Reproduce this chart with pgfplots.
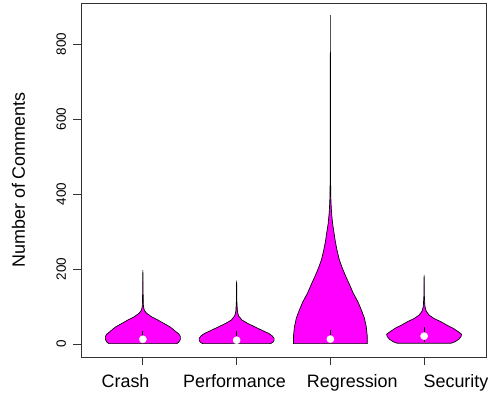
\documentclass[border=0pt]{standalone}
\usepackage{pgfplots}
\pgfplotsset{compat=1.18}
\usepackage{fontspec}
\setmainfont{Liberation Sans}
\definecolor{vio}{HTML}{FF00FF}
\begin{document}
\begin{tikzpicture}
\begin{axis}[
  at={(0,0)}, anchor=south west,
  scale only axis, width=405bp, height=354bp,
  xmin=0.34, xmax=4.66, ymin=-34.7, ymax=909.3,
  xtick={1,2,3,4},
  xticklabels={,,,},
  extra x ticks={0.815,1.977,3.234,4.34},
  extra x tick labels={Crash,Performance,Regression,Security},
  extra x tick style={major tick style={draw=none}},
  ytick={0,200,400,600,800},
  /pgf/number format/assume math mode=true,
  tick align=outside, major tick length=8bp,
  xtick pos=bottom, ytick pos=left,
  axis line style={black!80, line width=0.8bp},
  tick style={black!80, line width=0.8bp},
  xticklabel style={font=\fontsize{18}{18}\selectfont, anchor=base, inner sep=0pt},
  xticklabel shift=22.5bp,
  yticklabel style={font=\fontsize{13.5}{13.5}\selectfont, rotate=90, anchor=base, inner sep=0pt},
  yticklabel shift=7bp,
  ylabel={Number of Comments},
  ylabel style={font=\fontsize{18}{18}\selectfont, at={(axis description cs:-0.1383,0.5)}, anchor=base, inner sep=0pt},
  clip=false,
]
% Crash
\addplot[fill=vio, draw=black, line width=0.7bp] coordinates {
(0.638,1) (0.617,5) (0.600,12) (0.600,20) (0.617,27) (0.649,33) (0.681,40) (0.713,46) (0.777,55) (0.840,64) (0.904,72) (0.961,82) (0.984,90) (0.994,100) (0.997,130) (1,197)
(1.003,130) (1.006,100) (1.016,90) (1.039,82) (1.096,72) (1.160,64) (1.223,55) (1.287,46) (1.319,40) (1.351,33) (1.383,27) (1.400,20) (1.400,12) (1.383,5) (1.362,1)
} -- cycle;
% Performance
\addplot[fill=vio, draw=black, line width=0.7bp] coordinates {
(1.638,1) (1.612,5) (1.600,10) (1.600,15) (1.622,22) (1.660,28.5) (1.734,37) (1.809,46) (1.883,55) (1.944,64) (1.979,75) (1.991,86) (1.997,110) (2,169)
(2.003,110) (2.009,86) (2.021,75) (2.056,64) (2.117,55) (2.191,46) (2.266,37) (2.340,28.5) (2.378,22) (2.400,15) (2.400,10) (2.388,5) (2.362,1)
} -- cycle;
% Regression
\addplot[fill=vio, draw=black, line width=0.7bp] coordinates {
(2.606,1) (2.606,20) (2.617,46) (2.638,70) (2.670,91) (2.707,113) (2.755,135) (2.795,158) (2.835,180) (2.872,202) (2.904,224) (2.930,251) (2.947,273) (2.960,295) (2.976,320) (2.987,349) (2.994,380) (2.997,420) (2.999,500) (3,877)
(3.001,500) (3.003,420) (3.006,380) (3.013,349) (3.024,320) (3.040,295) (3.053,273) (3.070,251) (3.096,224) (3.128,202) (3.165,180) (3.205,158) (3.245,135) (3.293,113) (3.330,91) (3.362,70) (3.383,46) (3.394,20) (3.394,1)
} -- cycle;
% Security
\addplot[fill=vio, draw=black, line width=0.7bp] coordinates {
(3.713,2) (3.670,6) (3.628,13) (3.606,20) (3.600,26) (3.638,33) (3.691,42) (3.755,50) (3.819,59) (3.894,68) (3.947,77) (3.979,88) (3.991,100) (3.997,125) (4,184)
(4.003,125) (4.009,100) (4.021,88) (4.053,77) (4.106,68) (4.181,59) (4.245,50) (4.309,42) (4.362,33) (4.400,26) (4.394,20) (4.372,13) (4.330,6) (4.287,2)
} -- cycle;
% IQR lines
\addplot[black, line width=1bp] coordinates {(1,4) (1,35)};
\addplot[black, line width=1bp] coordinates {(2,3) (2,35)};
\addplot[black, line width=1bp] coordinates {(3,4) (3,37)};
\addplot[black, line width=1bp] coordinates {(4,4) (4,46)};
% medians
\addplot[only marks, mark=*, mark size=3.6bp, mark options={fill=white, draw=white}] coordinates {(1,12.5) (2,10) (3,13) (4,21)};
\end{axis}
\pgfresetboundingbox
\useasboundingbox (-81bp,-36bp) rectangle (413bp,357bp);
\end{tikzpicture}
\end{document}
